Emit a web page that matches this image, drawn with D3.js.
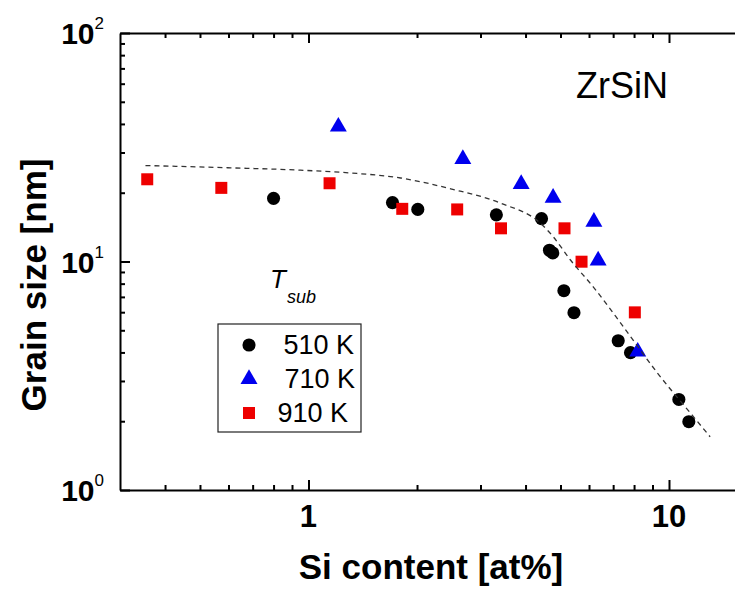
<!DOCTYPE html>
<html>
<head>
<meta charset="utf-8">
<script src="https://cdn.jsdelivr.net/npm/d3@7"></script>
<style>
  html, body { margin: 0; padding: 0; background: #fff; }
  svg { display: block; font-family: Arial, "Liberation Sans", Helvetica, sans-serif; }
</style>
</head>
<body>
<svg id="chart" width="735" height="591"></svg>
<script>
// Grain size versus Si content for ZrSiN films at three substrate temperatures
const si510 = [0.80, 1.71, 2.01, 3.32, 4.43, 4.66, 4.76, 5.11, 5.45, 7.23, 7.82, 10.65, 11.35];
const grain510 = [18.9, 18.1, 16.9, 16.0, 15.4, 11.2, 10.9, 7.45, 5.97, 4.5, 3.99, 2.49, 1.99];

const si710 = [1.21, 2.68, 3.89, 4.77, 6.19, 6.36, 8.19];
const grain710 = [38.9, 28.1, 21.8, 19.0, 14.9, 10.1, 4.03];

const si910 = [0.357, 0.573, 1.144, 1.82, 2.585, 3.42, 5.13, 5.72, 8.04];
const grain910 = [22.9, 21.0, 22.0, 17.0, 16.9, 13.97, 13.97, 9.98, 5.99];

// Dashed guide curve
const fitSi = [0.353, 0.608, 0.95, 1.31, 1.80, 2.48, 3.41, 4.40, 4.78, 5.33, 6.17, 7.48, 9.29, 11.7, 13.0];
const fitGrain = [26.3, 25.7, 25.1, 24.4, 23.2, 20.8, 18.0, 14.7, 12.8, 10.15, 7.73, 5.17, 3.25, 2.09, 1.71];

const xMajor = [1, 10];
const xMinor = [0.4, 0.5, 0.6, 0.7, 0.8, 0.9, 2, 3, 4, 5, 6, 7, 8, 9];
const yMajor = [1, 10, 100];
const yMajorExp = ["0", "1", "2"];
const yMinor = [2, 3, 4, 5, 6, 7, 8, 9, 20, 30, 40, 50, 60, 70, 80, 90];

const seriesNames = ["510 K", "710 K", "910 K"];
const seriesColors = ["#000000", "#0000ee", "#ee0000"];

const svg = d3.select("#chart");
const plotLeft = 120, plotTop = 33, plotBottom = 490;

const x = d3.scaleLog().domain([0.3, 15.5]).range([plotLeft, plotLeft + 360.5 * Math.log10(15.5 / 0.3)]);
const y = d3.scaleLog().domain([1, 100]).range([plotBottom, plotTop]);

const axisStroke = g => {
  g.selectAll("path, line").attr("stroke", "#000").attr("stroke-width", 2);
  g.selectAll("text").remove();
};

// Major and minor ticks, all pointing inward
svg.append("g").attr("transform", `translate(0,${plotBottom})`)
  .call(d3.axisBottom(x).tickValues(xMajor).tickSize(-10).tickSizeOuter(0).tickFormat(""))
  .call(axisStroke);
svg.append("g").attr("transform", `translate(0,${plotBottom})`)
  .call(d3.axisBottom(x).tickValues(xMinor).tickSize(-5).tickSizeOuter(0).tickFormat(""))
  .call(axisStroke).call(g => g.select(".domain").remove());

svg.append("g").attr("transform", `translate(0,${plotTop})`)
  .call(d3.axisTop(x).tickValues(xMajor).tickSize(-10).tickSizeOuter(0).tickFormat(""))
  .call(axisStroke);
svg.append("g").attr("transform", `translate(0,${plotTop})`)
  .call(d3.axisTop(x).tickValues(xMinor).tickSize(-5).tickSizeOuter(0).tickFormat(""))
  .call(axisStroke).call(g => g.select(".domain").remove());

svg.append("g").attr("transform", `translate(${plotLeft},0)`)
  .call(d3.axisLeft(y).tickValues(yMajor).tickSize(-10).tickSizeOuter(0).tickFormat(""))
  .call(axisStroke);
svg.append("g").attr("transform", `translate(${plotLeft},0)`)
  .call(d3.axisLeft(y).tickValues(yMinor).tickSize(-5).tickSizeOuter(0).tickFormat(""))
  .call(axisStroke).call(g => g.select(".domain").remove());

// Tick labels
svg.append("g").selectAll("text").data(xMajor).join("text")
  .attr("x", d => x(d)).attr("y", 527)
  .attr("text-anchor", "middle")
  .attr("font-size", 31).attr("font-weight", "bold")
  .text(d => d);

const yl = svg.append("g").selectAll("text").data(yMajor).join("text")
  .attr("x", 104).attr("y", d => y(d) + 11)
  .attr("text-anchor", "end");
yl.append("tspan").attr("font-size", 30).attr("font-weight", "bold").text("10");
yl.append("tspan").attr("font-size", 17).attr("dy", -15).text((d, i) => yMajorExp[i]);

// Axis titles
svg.append("text").attr("x", 431).attr("y", 579)
  .attr("text-anchor", "middle").attr("font-size", 35).attr("font-weight", "bold")
  .text("Si content [at%]");
svg.append("text").attr("transform", "translate(46,285) rotate(-90)")
  .attr("text-anchor", "middle").attr("font-size", 35).attr("font-weight", "bold")
  .text("Grain size [nm]");

// Markers
const symbols = [d3.symbolCircle, d3.symbolTriangle, d3.symbolSquare];
const symbolSizes = [135, 125, 144];
const seriesData = [
  si510.map((s, i) => [s, grain510[i]]),
  si710.map((s, i) => [s, grain710[i]]),
  si910.map((s, i) => [s, grain910[i]])
];
[0, 2, 1].forEach(k => {
  svg.append("g").selectAll("path").data(seriesData[k]).join("path")
    .attr("transform", d => `translate(${x(d[0])},${y(d[1])})`)
    .attr("d", d3.symbol(symbols[k], symbolSizes[k]))
    .attr("fill", seriesColors[k]);
});

// Dashed guide, drawn over the markers
svg.append("path")
  .datum(fitSi.map((s, i) => [s, fitGrain[i]]))
  .attr("fill", "none").attr("stroke", "#333").attr("stroke-width", 1.3)
  .attr("stroke-dasharray", "5,4")
  .attr("d", d3.line().x(d => x(d[0])).y(d => y(d[1])).curve(d3.curveMonotoneX));

// Annotations
svg.append("text").attr("x", 622).attr("y", 98)
  .attr("text-anchor", "middle").attr("font-size", 36).text("ZrSiN");

const tsub = svg.append("text").attr("x", 270).attr("y", 288)
  .attr("font-style", "italic");
tsub.append("tspan").attr("font-size", 26).text("T");
tsub.append("tspan").attr("font-size", 18).attr("dy", 15).attr("dx", 1).text("sub");

// Legend
const legend = svg.append("g");
legend.append("rect").attr("x", 218).attr("y", 324).attr("width", 143).attr("height", 108)
  .attr("fill", "#fff").attr("stroke", "#222").attr("stroke-width", 1.2);
const legendY = [345, 379, 413];
const legendTextEnd = [354, 355, 348];
seriesNames.forEach((name, k) => {
  legend.append("path")
    .attr("transform", `translate(249,${legendY[k]})`)
    .attr("d", d3.symbol(symbols[k], symbolSizes[k]))
    .attr("fill", seriesColors[k]);
  legend.append("text")
    .attr("x", legendTextEnd[k]).attr("y", legendY[k] + 9)
    .attr("text-anchor", "end").attr("font-size", 27)
    .text(name);
});
</script>
</body>
</html>
